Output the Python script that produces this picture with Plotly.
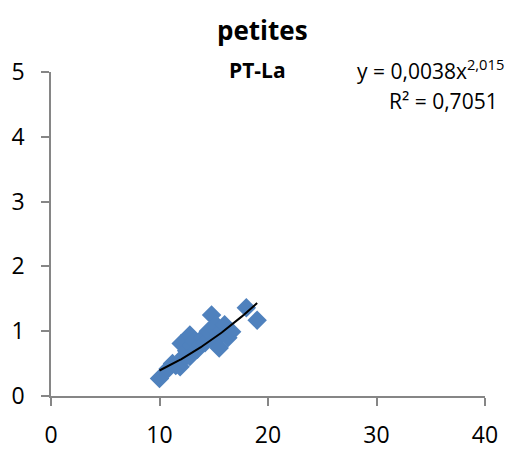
import plotly.graph_objects as go
import numpy as np

# Data
x_vals = [10.0, 10.8, 11.2, 11.5, 11.9, 12.0, 12.1, 12.3, 12.5, 12.8, 12.8, 13.0, 13.2,
          13.5, 13.8, 14.0, 14.2, 14.5, 14.8, 15.0, 15.0, 15.2, 15.5, 15.6, 15.8, 16.0,
          16.3, 16.65, 18.0, 19.0]
y_vals = [0.27, 0.42, 0.50, 0.47, 0.45, 0.81, 0.55, 0.62, 0.70, 0.61, 0.94, 0.78, 0.85,
          0.72, 0.80, 0.90, 0.82, 1.00, 1.25, 1.05, 0.85, 1.10, 0.74, 0.95, 1.02, 1.10,
          0.90, 0.99, 1.36, 1.17]

coef_a = 0.0038
coef_b = 2.015
fit_range = [10, 19]

x_ticks = [0, 10, 20, 30, 40]
y_ticks = [0, 1, 2, 3, 4, 5]

xf = np.linspace(fit_range[0], fit_range[1], 60)
yf = coef_a * xf ** coef_b

fig = go.Figure()
fig.add_trace(go.Scatter(x=x_vals, y=y_vals, mode="markers",
                         marker=dict(symbol="diamond", size=15, color="#4F81BD",
                                     line=dict(width=0)),
                         showlegend=False, hoverinfo="skip"))
fig.add_trace(go.Scatter(x=xf, y=yf, mode="lines",
                         line=dict(color="black", width=2),
                         showlegend=False, hoverinfo="skip"))

font_family = "Open Sans, Liberation Sans, sans-serif"
axis_common = dict(showgrid=False, zeroline=False, showline=True, linecolor="#868686",
                   linewidth=1.5, ticks="outside", ticklen=8, tickcolor="#868686",
                   tickwidth=1.5, automargin=False,
                   tickfont=dict(size=23, color="black", family=font_family))

L, R, T, B = 51, 41, 72, 54
PW, PH = 526 - L - R, 450 - T - B


def px(xp):
    return (xp - L) / PW


def py(yp):
    return (450 - B - yp) / PH


fig.update_layout(
    width=526, height=450,
    margin=dict(l=L, r=R, t=T, b=B, autoexpand=False),
    plot_bgcolor="white", paper_bgcolor="white",
    xaxis=dict(range=[0, 40], tickvals=x_ticks, ticklabelstandoff=10, **axis_common),
    yaxis=dict(range=[0, 5], tickvals=y_ticks, ticklabelstandoff=12, **axis_common),
    annotations=[
        dict(text="<b>petites</b>", x=px(262), y=py(30), xref="paper", yref="paper",
             xanchor="center", yanchor="middle",
             showarrow=False, font=dict(size=26, family=font_family, color="black")),
        dict(text="<b>PT-La</b>", xref="paper", yref="paper", x=px(257), y=py(70),
             xanchor="center", yanchor="middle",
             showarrow=False, font=dict(size=21, family=font_family, color="black")),
        dict(text="y = 0,0038x<sup>2,015</sup>", xref="paper", yref="paper",
             x=px(506), y=py(70), xanchor="right", yanchor="middle", showarrow=False,
             font=dict(size=21, family=font_family, color="black")),
        dict(text="R² = 0,7051", xref="paper", yref="paper",
             x=px(500), y=py(101), xanchor="right", yanchor="middle", showarrow=False,
             font=dict(size=21, family=font_family, color="black")),
    ],
)

fig.write_html("out.html")
